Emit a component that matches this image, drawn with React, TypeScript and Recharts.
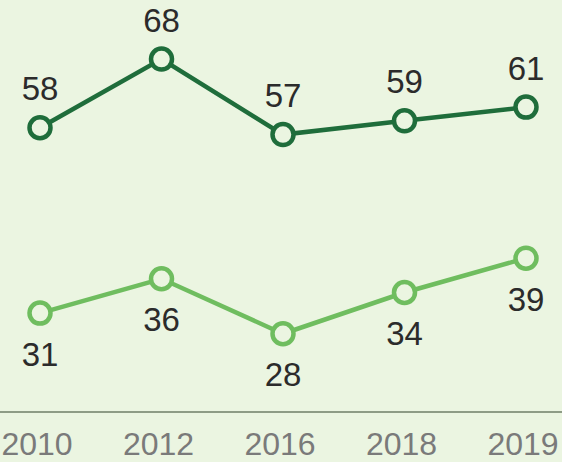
import { LineChart, Line, XAxis, YAxis } from 'recharts'

const years = ['2010', '2012', '2016', '2018', '2019']
const upperSeries = [58, 68, 57, 59, 61]
const lowerSeries = [31, 36, 28, 34, 39]

const data = years.map((year, i) => ({
  year,
  upper: upperSeries[i],
  lower: lowerSeries[i],
}))

const BG = '#ebf5e1'
const FONT = '"Liberation Sans", Arial, sans-serif'
const DARK = '#1f6d3b'
const LIGHT = '#6fbd5f'

// circle marker with its value label above (dy < 0) or below (dy > 0)
const makeDot = (color: string, dy: number) => (props: any) => {
  const { cx, cy, index, value } = props
  const v = Array.isArray(value) ? value[1] : value
  return (
    <g key={index}>
      <circle cx={cx} cy={cy} r={10.5} fill={BG} stroke={color} strokeWidth={4.5} />
      <text
        x={cx}
        y={cy + dy}
        textAnchor="middle"
        dominantBaseline="central"
        fontSize={33}
        fontFamily={FONT}
        fill="#2b2b2b"
      >
        {v}
      </text>
    </g>
  )
}

export default function App() {
  return (
    <div
      style={{
        position: 'fixed',
        top: 0,
        left: 0,
        width: 562,
        height: 462,
        background: BG,
      }}
    >
      <LineChart
        width={562}
        height={462}
        data={data}
        margin={{ top: 0, right: 0, bottom: 0, left: 0 }}
      >
        <XAxis
          dataKey="year"
          height={50}
          padding={{ left: 40, right: 36 }}
          tickLine={false}
          tickMargin={14}
          axisLine={{ stroke: '#8e9c86', strokeWidth: 2 }}
          tick={{ fontSize: 32, fill: '#7a7a7a', fontFamily: FONT, dx: -3 }}
          interval={0}
        />
        <YAxis hide domain={[16.6, 76.6]} />
        {/* lines first, then the markers on top of both */}
        <Line
          dataKey="upper"
          stroke={DARK}
          strokeWidth={4.5}
          dot={false}
          activeDot={false}
          isAnimationActive={false}
        />
        <Line
          dataKey="lower"
          stroke={LIGHT}
          strokeWidth={4.5}
          dot={false}
          activeDot={false}
          isAnimationActive={false}
        />
        <Line
          dataKey="upper"
          stroke="none"
          dot={makeDot(DARK, -39)}
          activeDot={false}
          isAnimationActive={false}
        />
        <Line
          dataKey="lower"
          stroke="none"
          dot={makeDot(LIGHT, 41)}
          activeDot={false}
          isAnimationActive={false}
        />
      </LineChart>
    </div>
  )
}
